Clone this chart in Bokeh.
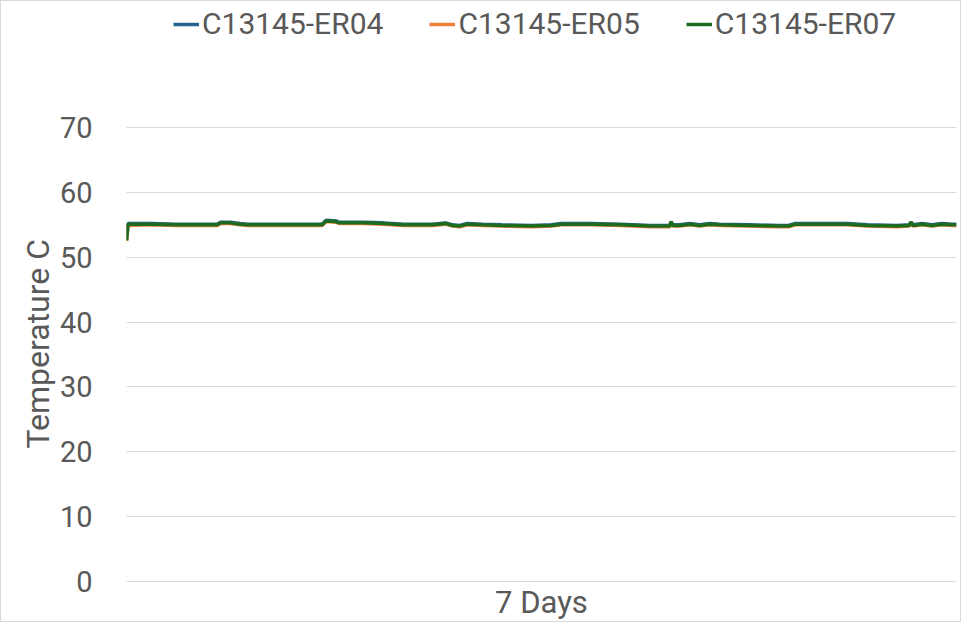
from bokeh.plotting import figure
from bokeh.models import Legend, LegendItem, FixedTicker, Range1d, Title
from bokeh.embed import file_html
from bokeh.resources import INLINE

# Time in hours over the 7-day window
hours = [0.0, 0.3, 5, 10, 15, 18.4, 19, 21, 23, 24.5, 30, 38, 39.6, 40.4, 42.4, 43, 48, 52, 56,
         62, 64.6, 66, 67.4, 69, 72, 76, 82, 86, 88, 94, 100, 106, 110, 110.2, 110.6, 112, 114,
         116, 118, 120, 126, 132, 134, 135.4, 146, 150, 156, 158.4, 158.8, 159.2, 161, 163, 165,
         167, 168]

er04 = [52.7, 55.2, 55.2, 55.1, 55.1, 55.1, 55.4, 55.4, 55.2, 55.1, 55.1, 55.1, 55.1, 55.7, 55.6,
        55.4, 55.4, 55.3, 55.1, 55.1, 55.3, 55.0, 54.9, 55.2, 55.1, 55.0, 54.9, 55.0, 55.2, 55.2,
        55.1, 54.9, 54.9, 55.5, 55.0, 55.0, 55.2, 55.0, 55.2, 55.1, 55.0, 54.9, 54.9, 55.2, 55.2,
        55.0, 54.9, 55.0, 55.4, 55.0, 55.2, 55.0, 55.2, 55.1, 55.1]

er05 = [52.5, 54.9, 55.0, 54.9, 54.9, 54.9, 55.2, 55.2, 55.0, 54.9, 54.9, 54.9, 54.9, 55.5, 55.4,
        55.2, 55.2, 55.1, 54.9, 54.9, 55.1, 54.8, 54.7, 55.0, 54.9, 54.8, 54.7, 54.8, 55.0, 55.0,
        54.9, 54.7, 54.7, 55.4, 54.8, 54.8, 55.0, 54.8, 55.0, 54.9, 54.8, 54.7, 54.7, 55.0, 55.0,
        54.8, 54.7, 54.8, 55.3, 54.8, 55.0, 54.8, 55.0, 54.9, 54.9]

er07 = [52.6, 55.1, 55.1, 55.0, 55.0, 55.0, 55.3, 55.3, 55.1, 55.0, 55.0, 55.0, 55.0, 55.6, 55.5,
        55.3, 55.3, 55.2, 55.0, 55.0, 55.2, 54.9, 54.8, 55.1, 55.0, 54.9, 54.8, 54.9, 55.1, 55.1,
        55.0, 54.8, 54.8, 55.5, 54.9, 54.9, 55.1, 54.9, 55.1, 55.0, 54.9, 54.8, 54.8, 55.1, 55.1,
        54.9, 54.8, 54.9, 55.4, 54.9, 55.1, 54.9, 55.1, 55.0, 55.0]

y_ticks = [0, 10, 20, 30, 40, 50, 60, 70]
series_names = ["C13145-ER04", "C13145-ER05", "C13145-ER07"]
series_colors = ["#25648F", "#F0803C", "#1D6B20"]

FONT = "Roboto"
TXT = "#595959"

# frame extends upward to hold the legend; ticks/grid only 0..70
p = figure(width=961, height=622, output_backend="svg", toolbar_location=None,
           x_range=Range1d(0, 168), y_range=Range1d(-0.3, 89.43),
           min_border_left=125, min_border_right=6, min_border_top=0, min_border_bottom=40)
p.outline_line_color = None
p.background_fill_color = "white"
p.border_fill_color = "white"
p.styles = {"border": "1px solid #D9D9D9"}

renderers = []
for vals, color in zip([er04, er05, er07], series_colors):
    r = p.line(hours, vals, line_color=color, line_width=3.5)
    renderers.append(r)

p.xgrid.visible = False
p.ygrid.grid_line_color = "#D9D9D9"
p.ygrid.grid_line_width = 1
p.yaxis.ticker = FixedTicker(ticks=y_ticks)
p.xaxis.ticker = FixedTicker(ticks=[])

for ax in (p.xaxis[0], p.yaxis[0]):
    ax.axis_line_color = None
    ax.major_tick_line_color = None
    ax.minor_tick_line_color = None
    ax.major_label_text_font = FONT
    ax.major_label_text_font_size = "29px"
    ax.major_label_text_color = TXT
    ax.axis_label_text_font = FONT
    ax.axis_label_text_font_size = "31px"
    ax.axis_label_text_color = TXT
    ax.axis_label_text_font_style = "normal"

p.yaxis.major_label_standoff = 28
p.xaxis.axis_label = "7 Days"
p.xaxis.axis_label_standoff = 0

# y-axis title, placed along the 0..70 part of the frame
ytitle = Title(text="Temperature C", align="left", offset=135,
               text_font=FONT, text_font_size="32px", text_color=TXT,
               text_font_style="normal", standoff=0)
p.add_layout(ytitle, "left")

legend = Legend(items=[LegendItem(label=n, renderers=[r]) for n, r in zip(series_names, renderers)],
                orientation="horizontal", location=(47, 542))
legend.label_text_font = FONT
legend.label_text_font_size = "30px"
legend.label_text_color = TXT
legend.glyph_width = 26
legend.label_standoff = 3
legend.spacing = 46
legend.border_line_color = None
legend.background_fill_alpha = 0
legend.padding = 0
legend.margin = 0
p.add_layout(legend, "center")

open("out.html", "w").write(file_html(p, INLINE))
